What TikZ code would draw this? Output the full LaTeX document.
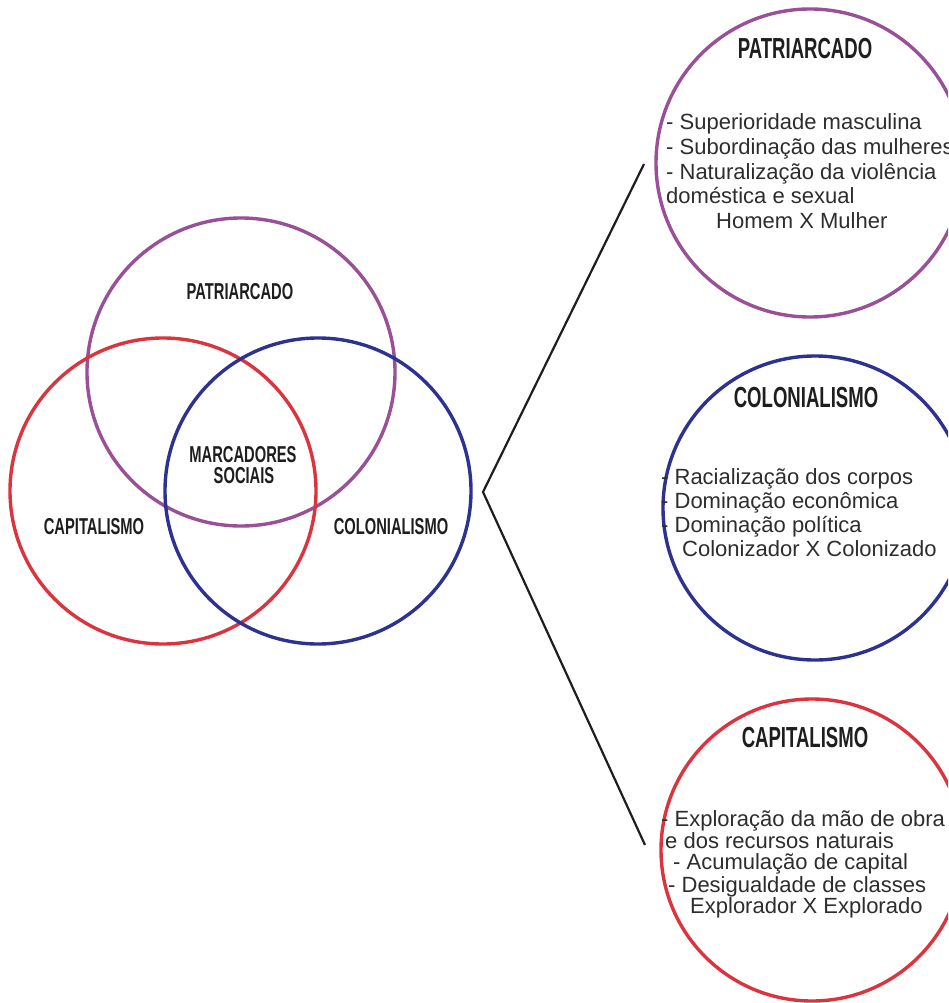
\documentclass[tikz,border=0pt]{standalone}
\usepackage{fontspec}
\setmainfont{Liberation Sans}
\newfontfamily\headfont{Liberation Sans}[FakeStretch=0.64]
\definecolor{cpurple}{RGB}{153,80,150}
\definecolor{cred}{RGB}{218,52,62}
\definecolor{cblue}{RGB}{45,50,145}
\definecolor{ctext}{RGB}{45,45,45}
\definecolor{chead}{RGB}{30,30,30}
\tikzset{
  ring/.style={circle, draw, line width=3.4pt, inner sep=0pt},
  venntitle/.style={font=\headfont\bfseries\fontsize{23}{24}\selectfont, text=chead, inner sep=0pt, text depth=0pt, anchor=base},
  bigtitle/.style={font=\headfont\bfseries\fontsize{29}{30}\selectfont, text=chead, inner sep=0pt, anchor=base},
  body/.style={font=\fontsize{22}{24}\selectfont, text=ctext, inner sep=0pt, anchor=base west},
  link/.style={draw=chead, line width=2.2pt, line join=miter}
}
\begin{document}
\begin{tikzpicture}[x=1pt,y=-1pt]
\useasboundingbox (0,0) rectangle (948,1003);
\clip (0,0) rectangle (948,1003);
\fill[white] (0,0) rectangle (948,1003);
% Venn diagram
\node[ring, draw=cpurple, minimum size=308pt] (vp) at (241,372) {};
\node[ring, draw=cred, minimum size=306pt] (vr) at (163,491) {};
\node[ring, draw=cblue, minimum size=306pt] (vb) at (318,491) {};
\node[venntitle] (lp) at (240,299.5) {PATRIARCADO};
\node[venntitle] (lm1) at (243,462) {MARCADORES};
\node[venntitle] (lm2) at (244,483) {SOCIAIS};
\node[venntitle] (lr) at (94,534.5) {CAPITALISMO};
\node[venntitle] (lb) at (391,534.5) {COLONIALISMO};
% Right circles
\node[ring, draw=cpurple, minimum size=308pt] (rp) at (810,163) {};
\node[ring, draw=cblue, minimum size=304pt] (rb) at (815,508) {};
\node[ring, draw=cred, minimum size=302pt] (rr) at (812,850) {};
\node[bigtitle] (tp) at (805,58.5) {PATRIARCADO};
\node[bigtitle] (tb) at (806,407.5) {COLONIALISMO};
\node[bigtitle] (tr) at (805,747.5) {CAPITALISMO};
% Patriarcado text
\node[body] (p1) at (666,130) {- Superioridade masculina};
\node[body] (p2) at (666,154.5) {- Subordinação das mulheres};
\node[body] (p3) at (666,179) {- Naturalização da violência};
\node[body] (p4) at (666,203.5) {doméstica e sexual};
\node[body] (p5) at (716,228) {Homem X Mulher};
% Colonialismo text
\node[body] (b1) at (661,484) {- Racialização dos corpos};
\node[body] (b2) at (661,508) {- Dominação econômica};
\node[body] (b3) at (661,532.5) {- Dominação política};
\node[body] (b4) at (682,556.5) {Colonizador X Colonizado};
% Capitalismo text
\node[body] (c1) at (661,826) {- Exploração da mão de obra};
\node[body] (c2) at (665,848) {e dos recursos naturais};
\node[body] (c3) at (673,869.5) {- Acumulação de capital};
\node[body] (c4) at (668,892) {- Desigualdade de classes};
\node[body] (c5) at (690,913.5) {Explorador X Explorado};
% Connectors
\coordinate (v) at (483,492);
\coordinate (eu) at (644,164);
\coordinate (ed) at (645,845);
\draw[link] (eu) -- (v) -- (ed);
\end{tikzpicture}
\end{document}
